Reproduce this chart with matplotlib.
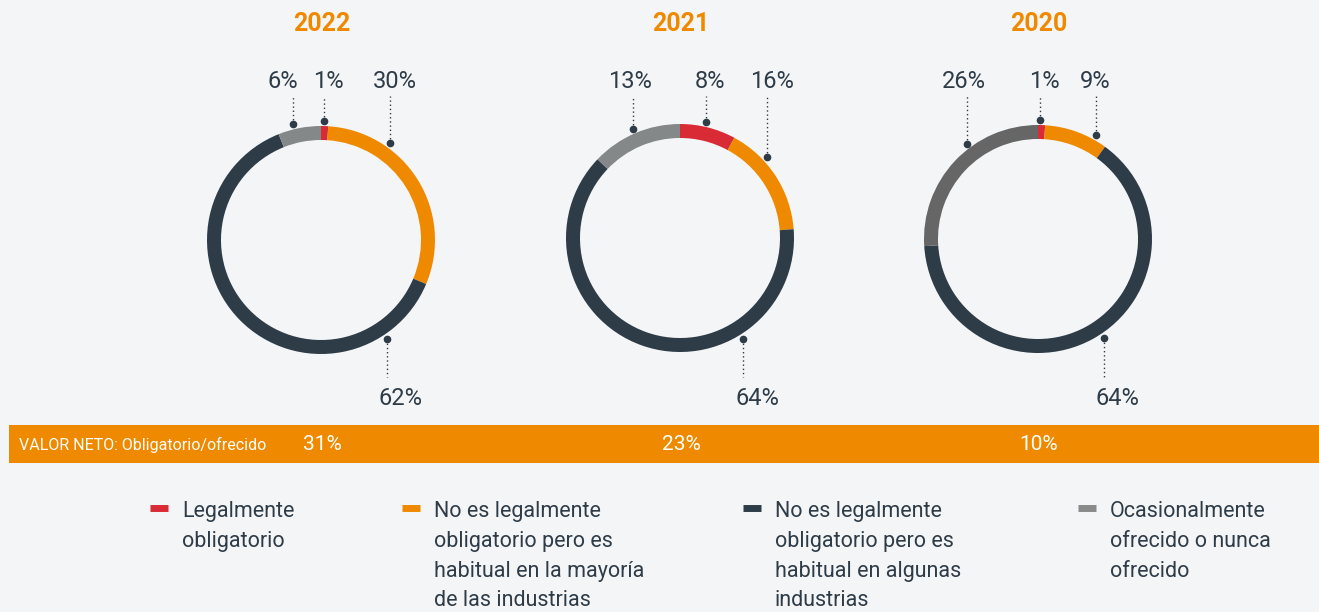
import numpy as np
import matplotlib
matplotlib.use("Agg")
import matplotlib.pyplot as plt
from matplotlib.patches import Rectangle

plt.rcParams['font.family'] = ['Roboto', 'DejaVu Sans']

years = ["2022", "2021", "2020"]
categories = ["Legalmente\nobligatorio",
              "No es legalmente\nobligatorio pero es\nhabitual en la mayoría\nde las industrias",
              "No es legalmente\nobligatorio pero es\nhabitual en algunas\nindustrias",
              "Ocasionalmente\nofrecido o nunca\nofrecido"]
# order: red, orange, dark, gray
vals_2022 = [1, 30, 62, 6]
vals_2021 = [8, 16, 64, 13]
vals_2020 = [1, 9, 64, 26]
net_values = ["31%", "23%", "10%"]
net_label = "VALOR NETO: Obligatorio/ofrecido"

RED = "#d92b35"
ORANGE = "#ef8a00"
DARK = "#2e3c48"
GRAY = "#858889"
GRAY2 = "#666666"
BG = "#f4f5f7"

W, H = 1319, 612
fig = plt.figure(figsize=(W / 100, H / 100), dpi=100, facecolor=BG)
ax = fig.add_axes([0, 0, 1, 1])
ax.set_facecolor(BG)

def Y(y):
    return H - y

centers = [(321, 240), (680, 238), (1038, 239)]
all_vals = [vals_2022, vals_2021, vals_2020]
ring_colors = [[RED, ORANGE, DARK, GRAY], [RED, ORANGE, DARK, GRAY], [RED, ORANGE, DARK, GRAY2]]
R, RW, RDOT = 114, 14, 119
# label layout: (line dx, text dx, top?) per segment (red, orange, dark, gray)
label_layout = [
    [(3, 7, True), (69, 74, True), (66, 79, False), (-28, -38, True)],
    [(26, 30, True), (87, 92, True), (63, 77, False), (-47, -50, True)],
    [(2, 6, True), (58, 57, True), (66, 79, False), (-71, -74, True)],
]

for (cx, cy), vals, cols, lay, yr in zip(centers, all_vals, ring_colors, label_layout, years):
    ax.pie(vals, colors=cols, startangle=90, counterclock=False, radius=R,
           center=(cx, Y(cy)), wedgeprops=dict(width=RW, edgecolor='none'))
    ax.text(cx + 1, Y(24), yr, ha='center', va='center', fontsize=18,
            fontweight='bold', color=ORANGE)
    for v, (ldx, tdx, top) in zip(vals, lay):
        dy = np.sqrt(RDOT ** 2 - ldx ** 2)
        if top:
            dot_y = cy - dy
            ax.plot([cx + ldx, cx + ldx], [Y(dot_y), Y(96)], ls=(0, (1, 2)), lw=1, color=DARK)
            ax.text(cx + tdx, Y(88), f"{v}%", ha='center', va='baseline', fontsize=17, color=DARK)
        else:
            dot_y = cy + dy
            ax.plot([cx + ldx, cx + ldx], [Y(dot_y), Y(377)], ls=(0, (1, 2)), lw=1, color=DARK)
            ax.text(cx + tdx, Y(405), f"{v}%", ha='center', va='baseline', fontsize=17, color=DARK)
        ax.plot(cx + ldx, Y(dot_y), 'o', ms=4.5, color=DARK)

# net value band
ax.add_patch(Rectangle((9, Y(463)), W - 9, 38, facecolor=ORANGE, edgecolor='none'))
ax.text(19, Y(444.5), net_label, ha='left', va='center', fontsize=11.5, color='white')
for (cx, cy), nv in zip(centers, net_values):
    ax.text(cx + 1, Y(444), nv, ha='center', va='center', fontsize=15, color='white')

# legend
leg_colors = [RED, ORANGE, DARK, "#8a8a8a"]
leg_x = [150, 402, 743, 1078]
for lx, c, lab in zip(leg_x, leg_colors, categories):
    ax.plot([lx, lx + 18], [Y(507.5), Y(507.5)], lw=5, color=c, solid_capstyle='butt')
    ax.text(lx + 32, Y(501), lab, ha='left', va='top', fontsize=15.5, color=DARK,
            linespacing=1.55)

ax.set_xlim(0, W)
ax.set_ylim(0, H)
ax.set_aspect('auto')
ax.axis('off')

fig.savefig("out.png", dpi=100, facecolor=BG)
